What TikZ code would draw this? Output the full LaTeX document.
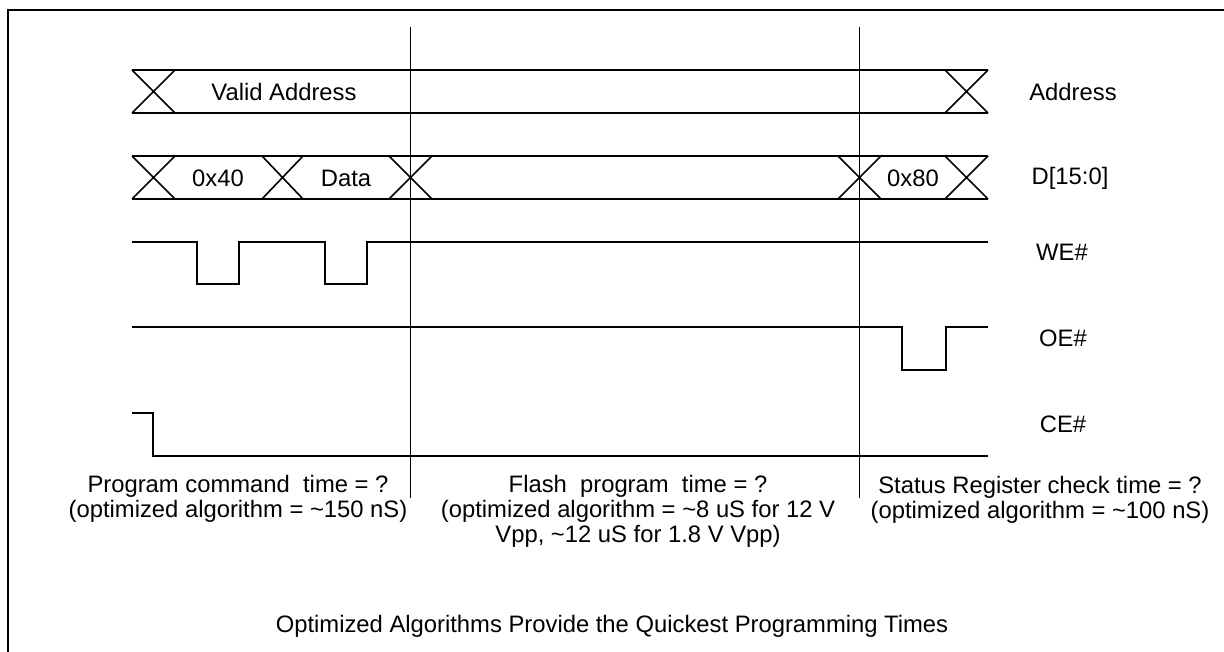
\documentclass[tikz,border=0pt]{standalone}
\usepackage{fontspec}
\setmainfont{Liberation Sans}
\begin{document}
\begin{tikzpicture}[x=0.5pt,y=-0.5pt,
  wave/.style={line width=0.8pt,line join=miter},
  divider/.style={line width=0.5pt},
  frameline/.style={line width=1.25pt},
  lbl/.style={inner sep=0pt,font=\fontsize{11.9}{13}\selectfont},
  ln/.style={inner sep=0pt,anchor=base,font=\fontsize{11.9}{13}\selectfont}]
\useasboundingbox (0,0) rectangle (1224,652);
% frame (left and top edges)
\draw[frameline] (8,652) -- (8,10) -- (1224,10);
% dividers
\coordinate (d1t) at (410,27); \coordinate (d1b) at (410,498);
\coordinate (d2t) at (859,27); \coordinate (d2b) at (859,498);
\draw[divider] (d1t) -- (d1b);
\draw[divider] (d2t) -- (d2b);
% Address bus
\draw[wave] (132,70) -- (988,70) (132,113) -- (988,113);
\foreach \a/\b in {132/175,945/988}{
  \draw[wave] (\a,70) -- (\b,113) (\a,113) -- (\b,70);
}
% Data bus
\draw[wave] (132,156) -- (988,156) (132,199) -- (988,199);
\foreach \a/\b in {132/175,262/303,389/432,838/881,945/988}{
  \draw[wave] (\a,156) -- (\b,199) (\a,199) -- (\b,156);
}
% WE#
\draw[wave] (132,242) -- (197,242) -- (197,284) -- (239,284) -- (239,242) -- (325,242) -- (325,284) -- (367,284) -- (367,242) -- (988,242);
% OE#
\draw[wave] (132,327) -- (902,327) -- (902,370) -- (946,370) -- (946,327) -- (988,327);
% CE#
\draw[wave] (132,413) -- (153,413) -- (153,456) -- (988,456);
% bus texts
\node[lbl] (va) at (284,92) {Valid Address};
\node[lbl] (d40) at (218,178) {0x40};
\node[lbl] (dd) at (346,178) {Data};
\node[lbl] (d80) at (913,178) {0x80};
% signal names
\node[lbl] (naddr) at (1073,92) {Address};
\node[lbl] (ndata) at (1070,178) {D[15:0]};
\node[lbl] (nwe) at (1062,252) {WE\#};
\node[lbl] (noe) at (1063,338) {OE\#};
\node[lbl] (nce) at (1063,424) {CE\#};
% phase descriptions
\node[ln] (p1a) at (238,492) {Program command\ \ time = ?};
\node[ln] (p1b) at (238,517) {(optimized algorithm = \textasciitilde150 nS)};
\node[ln] (p2a) at (638,492) {Flash\ \ program\ \ time = ?};
\node[ln] (p2b) at (638,517) {(optimized algorithm = \textasciitilde8 uS for 12 V};
\node[ln] (p2c) at (638,542) {Vpp, \textasciitilde12 uS for 1.8 V Vpp)};
\node[ln] (p3a) at (1040,493) {Status Register check time = ?};
\node[ln] (p3b) at (1040,518) {(optimized algorithm = \textasciitilde100 nS)};
% title
\node[ln] (title) at (612,632) {Optimized Algorithms Provide the Quickest Programming Times};
\end{tikzpicture}
\end{document}
